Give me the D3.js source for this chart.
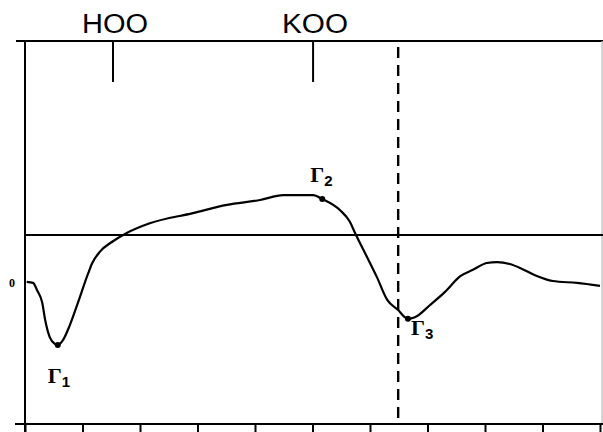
<!DOCTYPE html>
<html>
<head>
<meta charset="utf-8">
<script src="https://cdn.jsdelivr.net/npm/d3@7"></script>
<style>
  body { margin: 0; background: #fff; }
  svg { display: block; }
  .frame { stroke: #000; stroke-width: 2; fill: none; }
  .curve { stroke: #000; stroke-width: 2.2; fill: none; stroke-linejoin: round; }
  .top-label { font-family: 'Liberation Sans', Arial, sans-serif; font-size: 27px; }
  .gamma { font-family: 'Liberation Serif', 'Times New Roman', serif; font-size: 22px; font-weight: bold; }
</style>
</head>
<body>
<svg id="svg-chart" width="603" height="432"></svg>
<script>
//////////////////////////////////////////////////////////////////////////////////////////
// Data
//////////////////////////////////////////////////////////////////////////////////////////

var curve_x = [0.03, 0.14, 0.21, 0.30, 0.35, 0.43, 0.52, 0.57, 0.66, 0.78, 0.92, 1.10,
  1.17, 1.30, 1.53, 1.77, 2.17, 2.92, 3.51, 4.09, 4.49, 5.01, 5.17, 5.48, 5.65, 5.74,
  5.95, 6.12, 6.30, 6.49, 6.61, 6.66, 6.78, 7.04, 7.30, 7.57, 7.79, 8.03, 8.21, 8.43,
  8.61, 8.87, 9.18, 9.60, 10.0]
var curve_y = [0.03, 0.01, -0.14, -0.40, -0.75, -1.11, -1.25, -1.27, -1.17, -0.86, -0.40, 0.21,
  0.42, 0.65, 0.87, 1.04, 1.24, 1.45, 1.62, 1.72, 1.82, 1.82, 1.74, 1.51, 1.27, 1.04,
  0.54, 0.13, -0.34, -0.55, -0.70, -0.73, -0.70, -0.45, -0.18, 0.15, 0.28, 0.42, 0.44, 0.40,
  0.32, 0.17, 0.05, 0.01, -0.05]

var x_ticks = [0, 1, 2, 3, 4, 5, 6, 7, 8, 9, 10]
var y_tick_labels = ['0']
var reference_level = 1.0
var dashed_x = 6.49

var marker_names = ['HOO', 'KOO']
var marker_x = [1.53, 5.01]

var gamma_names = ['1', '2', '3']
var gamma_x = [0.57, 5.17, 6.66]
var gamma_y = [-1.27, 1.74, -0.73]

//////////////////////////////////////////////////////////////////////////////////////////
// Scales
//////////////////////////////////////////////////////////////////////////////////////////

var svg = d3.select('#svg-chart')
var x = d3.scaleLinear().domain([0, 10]).range([25, 600])
var y = d3.scaleLinear().domain([-2.9, 5]).range([424, 41])

//////////////////////////////////////////////////////////////////////////////////////////
// Frame and axes
//////////////////////////////////////////////////////////////////////////////////////////

// top line
svg.append('line').attr('class', 'frame')
  .attr('x1', 16).attr('x2', 603).attr('y1', y(5)).attr('y2', y(5))

// right edge (faint)
svg.append('line')
  .attr('x1', 602).attr('x2', 602).attr('y1', y(5)).attr('y2', y(-2.9))
  .attr('stroke', '#bbb').attr('stroke-width', 1.2)

// reference level
svg.append('line').attr('class', 'frame')
  .attr('x1', x(0)).attr('x2', 603)
  .attr('y1', y(reference_level)).attr('y2', y(reference_level))

// bottom axis with ticks pointing down
var x_axis = svg.append('g')
  .attr('transform', 'translate(0,' + y(-2.9) + ')')
  .call(d3.axisBottom(x).tickValues(x_ticks).tickSize(10).tickFormat(''))
x_axis.select('.domain').remove()
x_axis.selectAll('.tick line').attr('stroke', '#000').attr('stroke-width', 2)
x_axis.append('line').attr('class', 'frame')
  .attr('x1', 15).attr('x2', 603).attr('y1', 0).attr('y2', 0)

// left axis
svg.append('line').attr('class', 'frame')
  .attr('x1', x(0)).attr('x2', x(0)).attr('y1', y(5)).attr('y2', 432)

svg.append('text')
  .attr('x', 12).attr('y', y(0) + 4)
  .attr('text-anchor', 'middle')
  .attr('font-family', 'Liberation Serif, serif')
  .attr('font-size', 12)
  .attr('font-weight', 'bold')
  .attr('fill', '#000')
  .text(y_tick_labels[0])

//////////////////////////////////////////////////////////////////////////////////////////
// Top markers
//////////////////////////////////////////////////////////////////////////////////////////

marker_names.forEach(function(name, i) {
  svg.append('line').attr('class', 'frame')
    .attr('x1', x(marker_x[i])).attr('x2', x(marker_x[i]))
    .attr('y1', y(5)).attr('y2', y(5) + 41)
  svg.append('text').attr('class', 'top-label')
    .attr('x', x(marker_x[i]) - 31).attr('y', 33)
    .attr('textLength', 66)
    .attr('lengthAdjust', 'spacingAndGlyphs')
    .text(name)
})

// dashed vertical
svg.append('line')
  .attr('x1', x(dashed_x)).attr('x2', x(dashed_x))
  .attr('y1', y(5) + 6).attr('y2', y(-2.9))
  .attr('stroke', '#000').attr('stroke-width', 2.4)
  .attr('stroke-dasharray', '11,7')

//////////////////////////////////////////////////////////////////////////////////////////
// Curve
//////////////////////////////////////////////////////////////////////////////////////////

var curve_data = curve_x.map(function(d, i) { return [d, curve_y[i]] })
var line = d3.line()
  .x(function(d) { return x(d[0]) })
  .y(function(d) { return y(d[1]) })
  .curve(d3.curveMonotoneX)

svg.append('path').attr('class', 'curve').attr('d', line(curve_data))

//////////////////////////////////////////////////////////////////////////////////////////
// Gamma points
//////////////////////////////////////////////////////////////////////////////////////////

var gamma_offsets = [[-10, 38], [-12, -17], [3, 16]]

gamma_names.forEach(function(name, i) {
  svg.append('circle')
    .attr('cx', x(gamma_x[i])).attr('cy', y(gamma_y[i])).attr('r', 3)
    .attr('fill', '#000')
  var t = svg.append('text').attr('class', 'gamma')
    .attr('x', x(gamma_x[i]) + gamma_offsets[i][0])
    .attr('y', y(gamma_y[i]) + gamma_offsets[i][1])
  t.append('tspan').text('\u0393')
  t.append('tspan').attr('font-size', 15).attr('dy', 4)
    .attr('font-family', 'Liberation Sans, sans-serif').text(name)
})
</script>
</body>
</html>
